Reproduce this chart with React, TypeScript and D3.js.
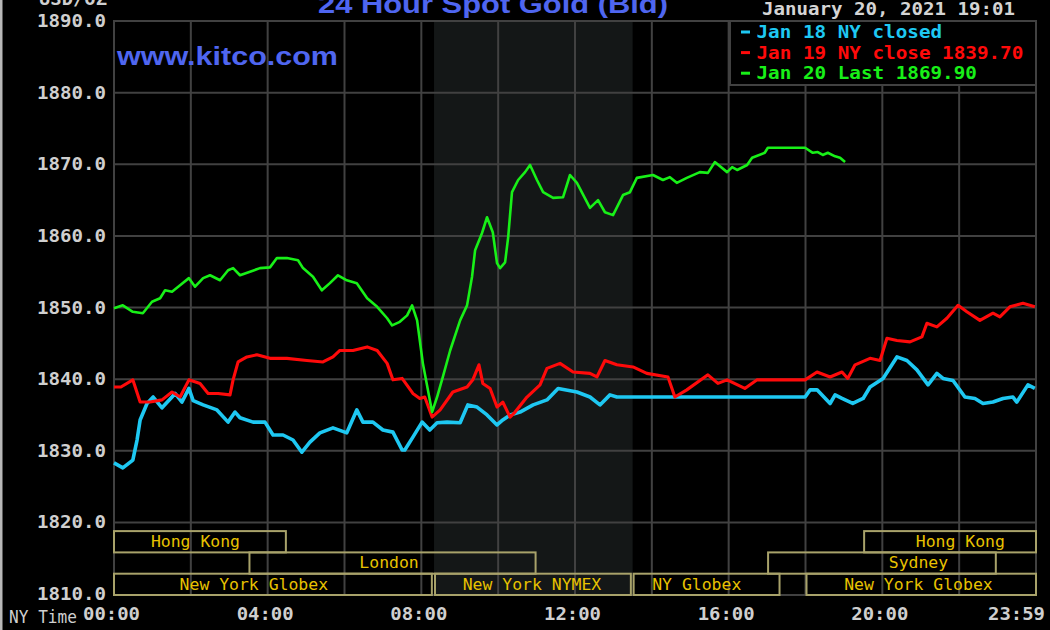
import React from "react";
import * as d3 from "d3";

// ---- data (hours since 00:00 NY time, price USD/oz) ----
const jan18Hours = [0, 0.23, 0.49, 0.6, 0.68, 0.86, 1.02, 1.25, 1.51, 1.59, 1.77, 1.95, 2.06, 2.32, 2.68, 2.97, 3.15, 3.28, 3.62, 3.93, 4.14, 4.4, 4.66, 4.89, 5.1, 5.36, 5.7, 6.06, 6.32, 6.48, 6.74, 7.0, 7.26, 7.5, 7.57, 7.78, 8.02, 8.22, 8.41, 8.67, 9.01, 9.21, 9.45, 9.71, 9.97, 10.12, 10.31, 10.57, 10.91, 11.27, 11.56, 12.05, 12.39, 12.65, 12.91, 13.09, 17.99, 18.12, 18.3, 18.64, 18.77, 18.95, 19.23, 19.5, 19.68, 20.02, 20.38, 20.64, 20.9, 21.19, 21.42, 21.58, 21.84, 22.15, 22.41, 22.62, 22.88, 23.14, 23.4, 23.5, 23.79, 23.97];
const jan18Values = [1828.3, 1827.6, 1828.7, 1831.5, 1834.3, 1836.6, 1837.5, 1836.0, 1837.5, 1838.0, 1836.8, 1838.7, 1837.0, 1836.4, 1835.7, 1834.0, 1835.4, 1834.6, 1834.0, 1834.0, 1832.2, 1832.2, 1831.5, 1829.8, 1831.2, 1832.5, 1833.2, 1832.5, 1835.7, 1834.0, 1834.0, 1832.9, 1832.6, 1830.1, 1830.1, 1831.9, 1834.0, 1832.9, 1833.9, 1834.0, 1833.9, 1836.4, 1836.1, 1835.0, 1833.6, 1834.3, 1835.0, 1835.4, 1836.4, 1837.1, 1838.7, 1838.2, 1837.5, 1836.4, 1837.8, 1837.5, 1837.5, 1838.5, 1838.5, 1836.6, 1837.8, 1837.3, 1836.6, 1837.3, 1838.9, 1840.1, 1843.1, 1842.6, 1841.3, 1839.2, 1840.8, 1840.1, 1839.8, 1837.5, 1837.3, 1836.6, 1836.8, 1837.3, 1837.5, 1836.8, 1839.2, 1838.7];

const jan19Hours = [0, 0.18, 0.49, 0.68, 0.94, 1.25, 1.51, 1.72, 1.95, 2.24, 2.45, 2.71, 3.02, 3.1, 3.23, 3.46, 3.72, 4.06, 4.5, 5.02, 5.44, 5.7, 5.88, 6.22, 6.59, 6.85, 7.11, 7.26, 7.5, 7.78, 7.96, 8.09, 8.28, 8.49, 8.82, 9.19, 9.34, 9.5, 9.6, 9.79, 9.97, 10.12, 10.31, 10.44, 10.75, 11.09, 11.27, 11.61, 11.95, 12.39, 12.57, 12.78, 13.09, 13.51, 13.87, 14.42, 14.6, 14.91, 15.46, 15.72, 15.96, 16.42, 16.74, 17.99, 18.3, 18.64, 18.95, 19.1, 19.29, 19.68, 19.94, 20.12, 20.38, 20.72, 21.03, 21.16, 21.42, 21.68, 21.97, 22.2, 22.54, 22.88, 23.06, 23.32, 23.66, 23.97];
const jan19Values = [1838.9, 1838.9, 1839.9, 1836.8, 1836.8, 1837.1, 1838.2, 1837.5, 1839.9, 1839.4, 1838.0, 1838.0, 1837.8, 1839.9, 1842.4, 1843.1, 1843.4, 1842.9, 1842.9, 1842.6, 1842.4, 1843.1, 1844.0, 1844.0, 1844.5, 1844.0, 1842.2, 1839.9, 1840.1, 1838.0, 1837.3, 1837.5, 1834.7, 1835.7, 1838.2, 1838.9, 1839.9, 1842.0, 1839.4, 1838.7, 1836.1, 1836.8, 1834.7, 1835.4, 1837.5, 1839.2, 1841.5, 1842.2, 1841.0, 1840.8, 1840.3, 1842.6, 1842.0, 1841.7, 1840.8, 1840.3, 1837.5, 1838.5, 1840.6, 1839.4, 1839.9, 1838.7, 1839.9, 1839.9, 1841.0, 1840.3, 1841.0, 1840.1, 1842.0, 1842.9, 1842.6, 1845.7, 1845.4, 1845.2, 1845.9, 1847.8, 1847.3, 1848.5, 1850.3, 1849.4, 1848.2, 1849.2, 1848.7, 1850.1, 1850.6, 1850.1];

const jan20Hours = [0, 0.23, 0.49, 0.75, 0.99, 1.2, 1.33, 1.51, 1.72, 1.95, 2.11, 2.32, 2.5, 2.76, 2.97, 3.1, 3.28, 3.54, 3.8, 4.06, 4.24, 4.5, 4.79, 4.92, 5.18, 5.41, 5.62, 5.83, 6.06, 6.32, 6.59, 6.85, 7.11, 7.24, 7.44, 7.63, 7.76, 7.89, 8.04, 8.28, 8.41, 8.56, 8.75, 9.01, 9.19, 9.32, 9.4, 9.58, 9.71, 9.86, 9.97, 10.05, 10.18, 10.26, 10.36, 10.52, 10.7, 10.83, 11.01, 11.17, 11.43, 11.69, 11.87, 12.05, 12.39, 12.6, 12.78, 12.99, 13.25, 13.43, 13.61, 14.03, 14.29, 14.47, 14.65, 14.91, 15.25, 15.46, 15.64, 15.96, 16.09, 16.22, 16.48, 16.61, 16.94, 17.02, 17.99, 18.19, 18.32, 18.45, 18.58, 18.77, 18.9, 19.03];
const jan20Values = [1849.9, 1850.3, 1849.4, 1849.2, 1850.8, 1851.3, 1852.4, 1852.2, 1853.1, 1854.1, 1852.9, 1854.1, 1854.5, 1853.8, 1855.2, 1855.5, 1854.5, 1855.0, 1855.5, 1855.6, 1856.9, 1856.9, 1856.6, 1855.5, 1854.3, 1852.4, 1853.4, 1854.5, 1853.8, 1853.4, 1851.3, 1850.1, 1848.5, 1847.5, 1848.0, 1848.9, 1850.3, 1848.2, 1842.2, 1835.4, 1837.5, 1840.3, 1844.0, 1848.2, 1850.3, 1854.3, 1858.0, 1860.4, 1862.6, 1860.5, 1856.2, 1855.5, 1856.3, 1859.8, 1866.1, 1867.8, 1868.9, 1869.9, 1867.8, 1866.1, 1865.3, 1865.4, 1868.5, 1867.4, 1863.9, 1865.0, 1863.3, 1862.9, 1865.7, 1866.1, 1868.1, 1868.5, 1867.8, 1868.2, 1867.4, 1868.1, 1868.9, 1868.8, 1870.3, 1868.9, 1869.6, 1869.2, 1869.9, 1870.9, 1871.6, 1872.3, 1872.3, 1871.6, 1871.7, 1871.3, 1871.6, 1871.1, 1870.9, 1870.3];

const yTicks = [1810, 1820, 1830, 1840, 1850, 1860, 1870, 1880, 1890];
const xTickHours = [0, 4, 8, 12, 16, 20, 24];
const xTickLabels = ["00:00", "04:00", "08:00", "12:00", "16:00", "20:00", "23:59"];
const gridHours = [2, 4, 6, 8, 10, 12, 14, 16, 18, 20, 22];

const seriesNames = ["Jan 18 NY closed", "Jan 19 NY close 1839.70", "Jan 20 Last 1869.90"];
const seriesColors = ["#1ec8f2", "#ff0a0a", "#18f018"];

// trading sessions: name, row (0 = top), start hour, end hour, label centre hour
const sessionNames = ["Hong Kong", "London", "New York Globex", "New York NYMEX", "NY Globex", "Sydney", "Hong Kong", "New York Globex"];
const sessionRows = [0, 1, 2, 2, 2, 1, 0, 2];
const sessionStarts = [0, 3.5, 0, 8.33, 13.5, 17.0, 19.5, 18.0];
const sessionEnds = [4.5, 11.0, 8.3, 13.48, 17.35, 22.98, 24, 24];
const sessionLabelAt = [2.12, 7.16, 3.64, 10.88, 15.17, 20.94, 22.03, 20.94];
const nymexShade = [8.33, 13.5];

const W = 1050;
const H = 630;
const M = { left: 114, right: 1036, top: 21, bottom: 594 };
const MONO = "'DejaVu Sans Mono', 'Liberation Mono', monospace";
const SANS = "'Liberation Sans', Arial, sans-serif";

export default function App() {
  const x = d3.scaleLinear().domain([0, 24]).range([M.left, M.right]);
  const y = d3.scaleLinear().domain([1810, 1890]).range([M.bottom, M.top]);

  const series = [
    { hours: jan18Hours, values: jan18Values, width: 3.6 },
    { hours: jan19Hours, values: jan19Values, width: 3.1 },
    { hours: jan20Hours, values: jan20Values, width: 2.6 },
  ];

  const line = d3
    .line<[number, number]>()
    .x((d) => x(d[0]))
    .y((d) => y(d[1]));

  const rowH = 21.3;
  const bandBottom = M.bottom + 1;
  const rowTop = (r: number) => bandBottom - (3 - r) * rowH;

  const gridColor = "#414141";
  const bandStroke = "#a8a26a";
  const bandText = "#e8c200";

  return (
    <svg
      width={W}
      height={H}
      style={{ position: "absolute", left: 0, top: 0, background: "#000" }}
    >
      <rect x={0} y={0} width={W} height={H} fill="#000" />
      <rect x={0} y={0} width={2.5} height={H} fill="#b8b8b8" />

      {/* NYMEX shading */}
      <rect
        x={x(nymexShade[0])}
        y={M.top}
        width={x(nymexShade[1]) - x(nymexShade[0])}
        height={M.bottom - M.top}
        fill="#141717"
      />

      {/* grid */}
      {yTicks.slice(1, -1).map((t) => (
        <line key={"h" + t} x1={M.left} x2={M.right} y1={y(t)} y2={y(t)} stroke={gridColor} strokeWidth={2} />
      ))}
      {gridHours.map((h) => (
        <line key={"v" + h} x1={x(h)} x2={x(h)} y1={M.top} y2={M.bottom + 1} stroke={gridColor} strokeWidth={2} />
      ))}
      <rect
        x={M.left}
        y={M.top}
        width={M.right - M.left}
        height={M.bottom + 1 - M.top}
        fill="none"
        stroke={gridColor}
        strokeWidth={2}
      />

      {/* sessions */}
      {sessionNames.map((name, i) => {
        const top = rowTop(sessionRows[i]);
        const x0 = x(sessionStarts[i]) + (sessionStarts[i] > 0 ? 1 : 0);
        const x1 = x(sessionEnds[i]) - (sessionEnds[i] < 24 ? 1 : 0);
        return (
          <g key={"s" + i}>
            <rect x={x0} y={top} width={x1 - x0} height={rowH} fill="none" stroke={bandStroke} strokeWidth={2} />
            <text
              x={x(sessionLabelAt[i])}
              y={top + 16}
              fill={bandText}
              fontFamily={MONO}
              fontSize={16}
              textAnchor="middle"
              textLength={name.length * 9.9}
              lengthAdjust="spacingAndGlyphs"
            >
              {name}
            </text>
          </g>
        );
      })}

      {/* price lines */}
      {series.map((s, i) => (
        <path
          key={"l" + i}
          d={line(s.hours.map((h, j) => [h, s.values[j]] as [number, number])) || ""}
          fill="none"
          stroke={seriesColors[i]}
          strokeWidth={s.width}
          strokeLinejoin="round"
        />
      ))}

      {/* y axis labels */}
      {yTicks.map((t) => (
        <text
          key={"yt" + t}
          x={106}
          y={y(t) + 6}
          fill="#cfcfcf"
          fontFamily={MONO}
          fontWeight="bold"
          fontSize={17}
          textAnchor="end"
          textLength={69}
          lengthAdjust="spacingAndGlyphs"
        >
          {t.toFixed(1)}
        </text>
      ))}
      <text x={39} y={4.5} fill="#cfcfcf" fontFamily={MONO} fontWeight="bold" fontSize={17} textLength={68} lengthAdjust="spacingAndGlyphs">
        USD/OZ
      </text>

      {/* x axis labels */}
      {xTickHours.map((h, i) => {
        const last = i === xTickHours.length - 1;
        return (
          <text
            key={"xt" + h}
            x={last ? 1045 : x(h) - 2.5}
            y={620}
            fill="#cfcfcf"
            fontFamily={MONO}
            fontWeight="bold"
            fontSize={17}
            textAnchor={last ? "end" : "middle"}
            textLength={57}
            lengthAdjust="spacingAndGlyphs"
          >
            {xTickLabels[i]}
          </text>
        );
      })}
      <text x={9} y={623} fill="#cfcfcf" fontFamily={MONO} fontSize={17} textLength={68} lengthAdjust="spacingAndGlyphs">
        NY Time
      </text>

      {/* titles */}
      <text
        x={493}
        y={12.5}
        fill="#4f66f0"
        fontFamily={SANS}
        fontWeight="bold"
        fontSize={26}
        textAnchor="middle"
        textLength={350}
        lengthAdjust="spacingAndGlyphs"
      >
        24 Hour Spot Gold (Bid)
      </text>
      <text
        x={117}
        y={65}
        fill="#4f66f0"
        fontFamily={SANS}
        fontWeight="bold"
        fontSize={26}
        textLength={221}
        lengthAdjust="spacingAndGlyphs"
      >
        www.kitco.com
      </text>
      <text
        x={762}
        y={15}
        fill="#d4d4d4"
        fontFamily={MONO}
        fontWeight="bold"
        fontSize={17}
        textLength={253}
        lengthAdjust="spacingAndGlyphs"
      >
        January 20, 2021 19:01
      </text>

      {/* legend */}
      <rect x={730} y={21} width={M.right - 730} height={64} fill="#000" stroke={gridColor} strokeWidth={2} />
      {seriesNames.map((name, i) => {
        const base = 38 + i * 20.6;
        return (
          <g key={"lg" + i}>
            <line x1={741} x2={750} y1={base - 6} y2={base - 6} stroke={seriesColors[i]} strokeWidth={3} />
            <text
              x={756.5}
              y={base}
              fill={seriesColors[i]}
              fontFamily={MONO}
              fontWeight="bold"
              fontSize={17}
              textLength={name.length * 11.6}
              lengthAdjust="spacingAndGlyphs"
            >
              {name}
            </text>
          </g>
        );
      })}
    </svg>
  );
}
